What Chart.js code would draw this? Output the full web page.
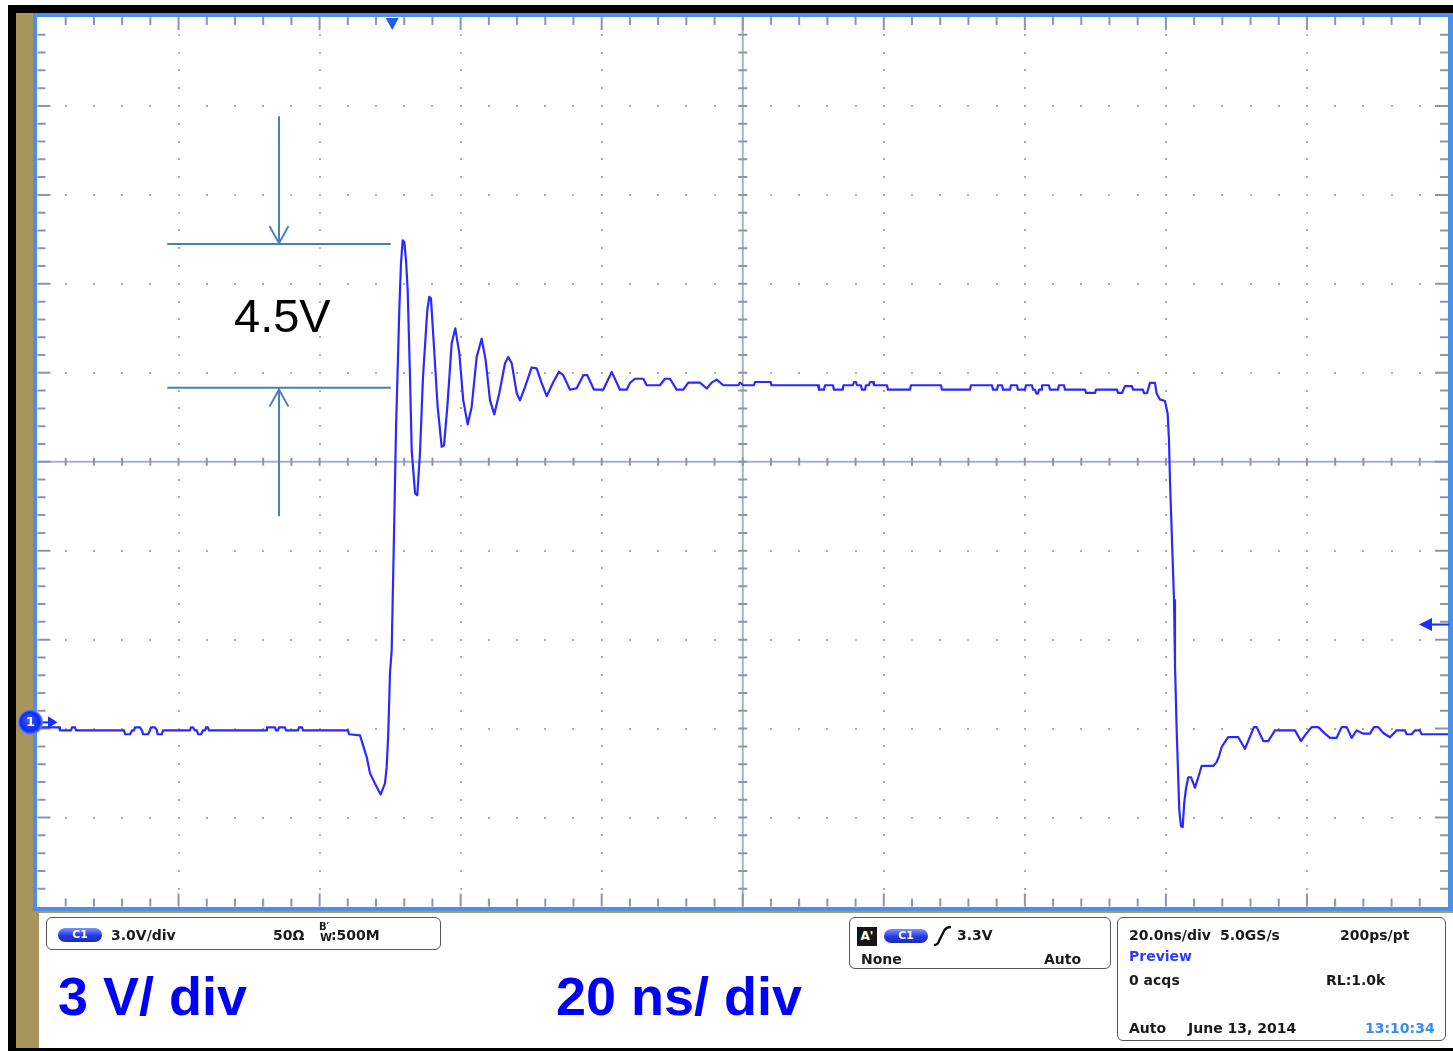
<!DOCTYPE html>
<html>
<head>
<meta charset="utf-8">
<script src="https://cdn.jsdelivr.net/npm/chart.js@4.4.1/dist/chart.umd.min.js"></script>
<style>
  body { margin: 0; width: 1453px; height: 1051px; position: relative; overflow: hidden; background: #fff; }
  .abs { position: absolute; }
  #blk { left: 8px; top: 5px; width: 1445px; height: 1046px; background: #000; }
  #gold { left: 16px; top: 13px; width: 23px; height: 1035px; background: #a8955b; }
  #blue { left: 33px; top: 13px; width: 1420px; height: 898px; background: #4b8fe6; }
  #goldline { left: 39px; top: 911px; width: 1414px; height: 2px; background: #b39a5e; }
  #panel { left: 39px; top: 913px; width: 1414px; height: 135px; background: #fff; }
  #plotbg { left: 37px; top: 17px; width: 1411px; height: 890px; background: #fff; }
  #scope { position: absolute; left: 0; top: 0; z-index: 2; }
  .box { position: absolute; box-sizing: border-box; border: 1.5px solid #555; border-radius: 6px; z-index: 3; }
  .t { position: absolute; z-index: 4; font: bold 14px "DejaVu Sans", sans-serif; line-height: 16px; color: #1a1a1a; white-space: nowrap; }
  .pill { position: absolute; z-index: 4; width: 44px; height: 14px; border-radius: 7px;
          background: linear-gradient(#7d95ff, #2438e0 55%, #1a2bc0); color: #fff;
          font: bold 11px "DejaVu Sans", sans-serif; line-height: 14px; text-align: center; }
  .big { position: absolute; z-index: 4; font: bold 54px "Liberation Sans", Arial, sans-serif; line-height: 54px; color: #0000ff; white-space: nowrap; }
</style>
</head>
<body>
<div id="blk" class="abs"></div>
<div id="gold" class="abs"></div>
<div id="blue" class="abs"></div>
<div id="goldline" class="abs"></div>
<div id="panel" class="abs"></div>
<div id="plotbg" class="abs"></div>
<canvas id="scope" width="1453" height="1051"></canvas>

<div class="t" style="left:234px; top:292px; font:47px 'Liberation Sans', Arial, sans-serif; line-height:47px; color:#000;">4.5V</div>

<div class="box" style="left:46px; top:917px; width:395px; height:33px;"></div>
<div class="pill" style="left:58px; top:928px;">C1</div>
<div class="t" style="left:111px; top:927px;">3.0V/div</div>
<div class="t" style="left:273px; top:927px;">50Ω</div>
<div class="t" style="left:319px; top:922px; font-size:10px; line-height:10px;">B′</div>
<div class="t" style="left:320px; top:932px; font-size:11px; line-height:12px;">W</div>
<div class="t" style="left:331px; top:927px;">:500M</div>

<div class="box" style="left:849px; top:917px; width:262px; height:52px;"></div>
<div class="t" style="left:857px; top:927px; width:20px; height:19px; background:#161616; color:#fff; font-size:12px; line-height:19px; text-align:center;">A'</div>
<div class="pill" style="left:884px; top:929px;">C1</div>
<svg class="abs" style="left:933px; top:926px; z-index:4;" width="20" height="21">
  <path d="M1,19 Q5,19 6,15 L11,5 Q13,1 18,1" fill="none" stroke="#111" stroke-width="2.4"/>
</svg>
<div class="t" style="left:957px; top:927px;">3.3V</div>
<div class="t" style="left:861px; top:951px;">None</div>
<div class="t" style="left:1044px; top:951px;">Auto</div>

<div class="box" style="left:1117px; top:917px; width:329px; height:124px;"></div>
<div class="t" style="left:1129px; top:927px;">20.0ns/div</div>
<div class="t" style="left:1220px; top:927px;">5.0GS/s</div>
<div class="t" style="left:1340px; top:927px;">200ps/pt</div>
<div class="t" style="left:1129px; top:948px; color:#2c3cff;">Preview</div>
<div class="t" style="left:1129px; top:972px;">0 acqs</div>
<div class="t" style="left:1326px; top:972px;">RL:1.0k</div>
<div class="t" style="left:1129px; top:1020px;">Auto</div>
<div class="t" style="left:1188px; top:1020px;">June 13, 2014</div>
<div class="t" style="left:1365px; top:1020px; color:#3a8cf5;">13:10:34</div>

<div class="big" style="left:58px; top:969px;">3 V/ div</div>
<div class="big" style="left:556px; top:969px;">20 ns/ div</div>

<script>
// scope settings
var voltsPerDiv = 3;
var nsPerDiv = 20;
var groundPositionDiv = -2.93;   // channel 1 offset, in divisions
var triggerTimeNs = 50.3;
var triggerLevelV = 3.3;

// channel 1 trace (time in ns, level in V)
var timeNs = [
  0.07, 3.05, 3.19, 4.75, 4.89, 5.32, 5.46, 12.26, 12.41, 13.12,
  13.40, 13.68, 13.82, 14.53, 14.82, 14.96, 15.67, 15.95, 16.09, 16.66,
  16.94, 17.02, 17.65, 17.79, 21.62, 21.76, 22.05, 22.33, 22.61, 22.76,
  23.18, 23.47, 23.75, 23.89, 24.17, 24.32, 32.40, 32.54, 33.68, 33.82,
  34.10, 34.24, 35.09, 35.23, 36.94, 37.08, 37.50, 37.65, 44.03, 44.17,
  45.73, 46.68, 47.15, 47.85, 48.66, 49.27, 49.51, 49.74, 49.98, 50.22,
  50.59, 50.83, 51.30, 51.54, 51.78, 52.01, 52.25, 52.49, 52.82, 53.06,
  53.53, 53.85, 54.23, 54.66, 55.27, 55.55, 55.79, 56.22, 56.74, 57.31,
  57.64, 58.11, 58.73, 59.24, 59.81, 60.37, 61.00, 61.56, 62.27, 62.98,
  63.55, 64.16, 64.77, 65.48, 66.29, 66.76, 67.24, 67.95, 68.41, 69.12,
  70.07, 70.78, 71.49, 72.20, 73.14, 73.94, 74.55, 75.50, 76.45, 77.39,
  77.96, 78.91, 80.22, 81.42, 82.59, 83.54, 84.01, 84.72, 85.90, 86.38,
  88.26, 88.97, 89.68, 90.63, 91.57, 92.28, 93.94, 94.89, 95.59, 96.30,
  97.24, 99.37, 99.61, 100.08, 101.59, 101.73, 103.96, 104.07, 110.67, 110.81,
  111.52, 111.66, 112.79, 112.93, 114.17, 114.28, 115.63, 115.77, 116.06, 116.20,
  116.76, 116.90, 117.33, 117.47, 117.90, 118.04, 118.47, 118.61, 120.45, 120.59,
  123.71, 123.85, 128.11, 128.25, 132.22, 132.36, 135.34, 135.48, 136.05, 136.19,
  136.76, 136.90, 137.89, 138.03, 138.88, 139.02, 140.02, 140.16, 141.01, 141.15,
  141.43, 141.65, 141.86, 142.00, 142.29, 142.43, 143.42, 143.56, 144.70, 144.84,
  145.55, 145.69, 148.53, 148.68, 149.95, 150.09, 153.06, 153.21, 153.77, 154.20,
  155.19, 155.33, 156.75, 156.89, 157.32, 157.74, 158.45, 158.69, 159.16, 159.87,
  160.25, 160.43, 160.58, 161.15, 161.29, 161.53, 161.76, 161.90, 162.14, 162.38,
  162.61, 162.85, 163.17, 163.56, 164.12, 164.59, 165.07, 166.72, 167.20, 167.57,
  167.91, 168.38, 168.84, 170.26, 171.21, 172.49, 172.87, 173.81, 174.52, 175.46,
  178.30, 179.15, 179.72, 180.67, 181.61, 182.56, 183.26, 184.21, 184.92, 185.63,
  186.34, 187.05, 187.99, 188.94, 189.50, 190.11, 190.82, 191.77, 192.72, 193.90,
  194.14, 194.85, 195.31, 196.02, 196.27, 200.00
];
var volts = [
  -0.17, -0.17, -0.27, -0.27, -0.17, -0.17, -0.27, -0.27, -0.40, -0.40,
  -0.27, -0.27, -0.17, -0.17, -0.27, -0.40, -0.40, -0.27, -0.17, -0.17,
  -0.27, -0.40, -0.40, -0.27, -0.27, -0.17, -0.17, -0.27, -0.27, -0.40,
  -0.40, -0.27, -0.27, -0.17, -0.17, -0.27, -0.27, -0.17, -0.17, -0.27,
  -0.27, -0.17, -0.17, -0.27, -0.27, -0.17, -0.17, -0.27, -0.27, -0.40,
  -0.44, -1.17, -1.72, -2.06, -2.43, -2.06, -1.51, -0.37, 1.65, 2.43,
  6.81, 9.85, 13.90, 15.48, 16.26, 16.20, 15.59, 14.57, 11.65, 9.18,
  7.73, 7.66, 9.07, 11.64, 13.90, 14.35, 14.30, 12.66, 10.64, 9.29,
  9.34, 10.64, 12.79, 13.29, 12.45, 10.86, 10.05, 10.64, 12.32, 12.94,
  12.21, 10.86, 10.39, 11.10, 12.11, 12.32, 12.11, 11.10, 10.86, 11.31,
  11.97, 11.94, 11.44, 11.00, 11.48, 11.82, 11.71, 11.22, 11.27, 11.71,
  11.71, 11.22, 11.22, 11.82, 11.22, 11.22, 11.45, 11.59, 11.59, 11.37,
  11.37, 11.59, 11.59, 11.22, 11.22, 11.46, 11.46, 11.26, 11.46, 11.56,
  11.37, 11.37, 11.46, 11.37, 11.37, 11.48, 11.48, 11.37, 11.37, 11.22,
  11.22, 11.37, 11.37, 11.22, 11.22, 11.37, 11.37, 11.48, 11.48, 11.37,
  11.37, 11.22, 11.22, 11.37, 11.37, 11.48, 11.48, 11.37, 11.37, 11.22,
  11.22, 11.37, 11.37, 11.22, 11.22, 11.37, 11.37, 11.22, 11.22, 11.37,
  11.37, 11.22, 11.22, 11.37, 11.37, 11.22, 11.22, 11.37, 11.37, 11.22,
  11.22, 11.09, 11.09, 11.22, 11.22, 11.37, 11.37, 11.22, 11.22, 11.37,
  11.37, 11.22, 11.22, 11.11, 11.11, 11.22, 11.22, 11.11, 11.11, 11.34,
  11.34, 11.22, 11.22, 11.10, 11.10, 11.45, 11.45, 11.09, 10.89, 10.84,
  10.41, 9.57, 8.16, 4.12, 1.92, -0.27, -1.96, -2.97, -3.51, -3.53,
  -2.69, -2.23, -1.85, -1.85, -2.20, -1.85, -1.47, -1.47, -1.34, -1.11,
  -0.83, -0.66, -0.50, -0.50, -0.89, -0.16, -0.16, -0.63, -0.63, -0.27,
  -0.27, -0.63, -0.44, -0.16, -0.16, -0.38, -0.52, -0.52, -0.16, -0.16,
  -0.52, -0.27, -0.38, -0.38, -0.16, -0.16, -0.36, -0.50, -0.27, -0.27,
  -0.40, -0.40, -0.27, -0.27, -0.40, -0.40
];

// 4.5V overshoot markers (levels in V, times in ns)
var overshootLevelsV = [16.13, 11.29];
var markerSpanNs = [18.4, 50.1];
var arrowTimeNs = 34.24;
var arrowEndsV = [20.44, 6.95];

function toDiv(v) { return v / voltsPerDiv + groundPositionDiv; }

var points = timeNs.map(function (t, i) { return { x: t, y: toDiv(volts[i]) }; });

var graticule = {
  id: 'graticule',
  beforeDatasetsDraw: function (chart) {
    var ctx = chart.ctx, a = chart.chartArea, x = chart.scales.x, y = chart.scales.y;
    var i, k, px, py;
    ctx.save();
    // dotted major lines
    ctx.fillStyle = '#a6acbc';
    for (i = 1; i < 10; i++) {
      if (i === 5) continue;
      px = Math.round(x.getPixelForValue(i * nsPerDiv));
      for (k = 1; k < 50; k++) {
        py = Math.round(y.getPixelForValue(-5 + k * 0.2));
        ctx.fillRect(px - 1, py - 1, 2, 2);
      }
    }
    for (i = -4; i <= 4; i++) {
      if (i === 0) continue;
      py = Math.round(y.getPixelForValue(i));
      for (k = 1; k < 50; k++) {
        px = Math.round(x.getPixelForValue(k * nsPerDiv / 5));
        ctx.fillRect(px - 1, py - 1, 2, 2);
      }
    }
    // centre cross
    var cx = x.getPixelForValue(5 * nsPerDiv), cy = y.getPixelForValue(0);
    ctx.strokeStyle = '#aab1c3';
    ctx.lineWidth = 2;
    ctx.beginPath();
    ctx.moveTo(cx, a.top); ctx.lineTo(cx, a.bottom);
    ctx.moveTo(a.left, cy); ctx.lineTo(a.right, cy);
    ctx.stroke();
    // ticks
    ctx.strokeStyle = '#8e95a8';
    ctx.beginPath();
    for (k = 1; k < 50; k++) {
      var major = k % 5 === 0;
      var len = major ? 13 : 8;
      px = x.getPixelForValue(k * nsPerDiv / 5);
      ctx.moveTo(px, a.top); ctx.lineTo(px, a.top + len);
      ctx.moveTo(px, a.bottom); ctx.lineTo(px, a.bottom - len);
      ctx.moveTo(px, cy - 4); ctx.lineTo(px, cy + 4);
      py = y.getPixelForValue(-5 + k * 0.2);
      ctx.moveTo(a.left, py); ctx.lineTo(a.left + len, py);
      ctx.moveTo(a.right, py); ctx.lineTo(a.right - len, py);
      ctx.moveTo(cx - 4.5, py); ctx.lineTo(cx + 4.5, py);
    }
    ctx.stroke();
    ctx.restore();
  }
};

var overlays = {
  id: 'overlays',
  afterDatasetsDraw: function (chart) {
    var ctx = chart.ctx, a = chart.chartArea, x = chart.scales.x, y = chart.scales.y;
    ctx.save();
    // 4.5V measurement lines
    ctx.strokeStyle = '#4a7ebb';
    ctx.lineWidth = 2;
    var x0 = x.getPixelForValue(markerSpanNs[0]), x1 = x.getPixelForValue(markerSpanNs[1]);
    var ax = x.getPixelForValue(arrowTimeNs);
    var yHi = y.getPixelForValue(toDiv(overshootLevelsV[0]));
    var yLo = y.getPixelForValue(toDiv(overshootLevelsV[1]));
    var yTop = y.getPixelForValue(toDiv(arrowEndsV[0]));
    var yBot = y.getPixelForValue(toDiv(arrowEndsV[1]));
    ctx.beginPath();
    ctx.moveTo(x0, yHi); ctx.lineTo(x1, yHi);
    ctx.moveTo(x0, yLo); ctx.lineTo(x1, yLo);
    ctx.moveTo(ax, yTop); ctx.lineTo(ax, yHi - 1);
    ctx.moveTo(ax - 9.5, yHi - 18); ctx.lineTo(ax, yHi - 1); ctx.lineTo(ax + 9.5, yHi - 18);
    ctx.moveTo(ax, yBot); ctx.lineTo(ax, yLo + 2);
    ctx.moveTo(ax - 9.5, yLo + 19); ctx.lineTo(ax, yLo + 2); ctx.lineTo(ax + 9.5, yLo + 19);
    ctx.stroke();

    // trigger position marker (top)
    var tx = x.getPixelForValue(triggerTimeNs);
    ctx.fillStyle = '#1f5ce8';
    ctx.beginPath();
    ctx.moveTo(tx - 6.5, a.top + 1); ctx.lineTo(tx + 6.5, a.top + 1); ctx.lineTo(tx, a.top + 13);
    ctx.closePath(); ctx.fill();

    // trigger level marker (right)
    var ty = y.getPixelForValue(toDiv(triggerLevelV));
    ctx.fillStyle = '#1530ff';
    ctx.strokeStyle = '#1530ff';
    ctx.beginPath();
    ctx.moveTo(a.right - 29, ty); ctx.lineTo(a.right - 16, ty - 6.5); ctx.lineTo(a.right - 16, ty + 6.5);
    ctx.closePath(); ctx.fill();
    ctx.beginPath();
    ctx.moveTo(a.right - 17, ty); ctx.lineTo(a.right + 1, ty);
    ctx.stroke();

    // channel 1 ground marker
    var gy = y.getPixelForValue(groundPositionDiv);
    var gx = a.left - 7;
    ctx.beginPath();
    ctx.moveTo(gx + 10, gy); ctx.lineTo(a.left + 12, gy);
    ctx.stroke();
    ctx.beginPath();
    ctx.moveTo(a.left + 20, gy); ctx.lineTo(a.left + 10.5, gy - 6); ctx.lineTo(a.left + 10.5, gy + 6);
    ctx.closePath(); ctx.fill();
    var g = ctx.createRadialGradient(gx - 2, gy - 3, 1, gx, gy, 12.5);
    g.addColorStop(0, '#3a5cff');
    g.addColorStop(0.75, '#0a2af0');
    g.addColorStop(1, '#6f8cff');
    ctx.fillStyle = g;
    ctx.beginPath();
    ctx.arc(gx, gy, 12.5, 0, Math.PI * 2);
    ctx.fill();
    ctx.fillStyle = '#fff';
    ctx.font = 'bold 13px "DejaVu Sans", sans-serif';
    ctx.textAlign = 'center';
    ctx.textBaseline = 'middle';
    ctx.fillText('1', gx, gy + 0.5);
    ctx.restore();
  }
};

var ctx = document.getElementById('scope').getContext('2d');
var scopeChart = new Chart(ctx, {
  type: 'line',
  data: {
    datasets: [{
      label: 'C1',
      data: points,
      borderColor: '#2a2aff',
      borderWidth: 2.2,
      borderJoinStyle: 'round',
      borderCapStyle: 'round',
      pointRadius: 0,
      tension: 0,
      fill: false
    }]
  },
  options: {
    responsive: false,
    animation: false,
    devicePixelRatio: 1,
    layout: { padding: { left: 37.5, top: 17, right: 5, bottom: 144.5 } },
    plugins: { legend: { display: false }, tooltip: { enabled: false } },
    events: [],
    scales: {
      x: { type: 'linear', min: 0, max: 10 * nsPerDiv, display: false },
      y: { type: 'linear', min: -5, max: 5, display: false }
    }
  },
  plugins: [graticule, overlays]
});
</script>
</body>
</html>
